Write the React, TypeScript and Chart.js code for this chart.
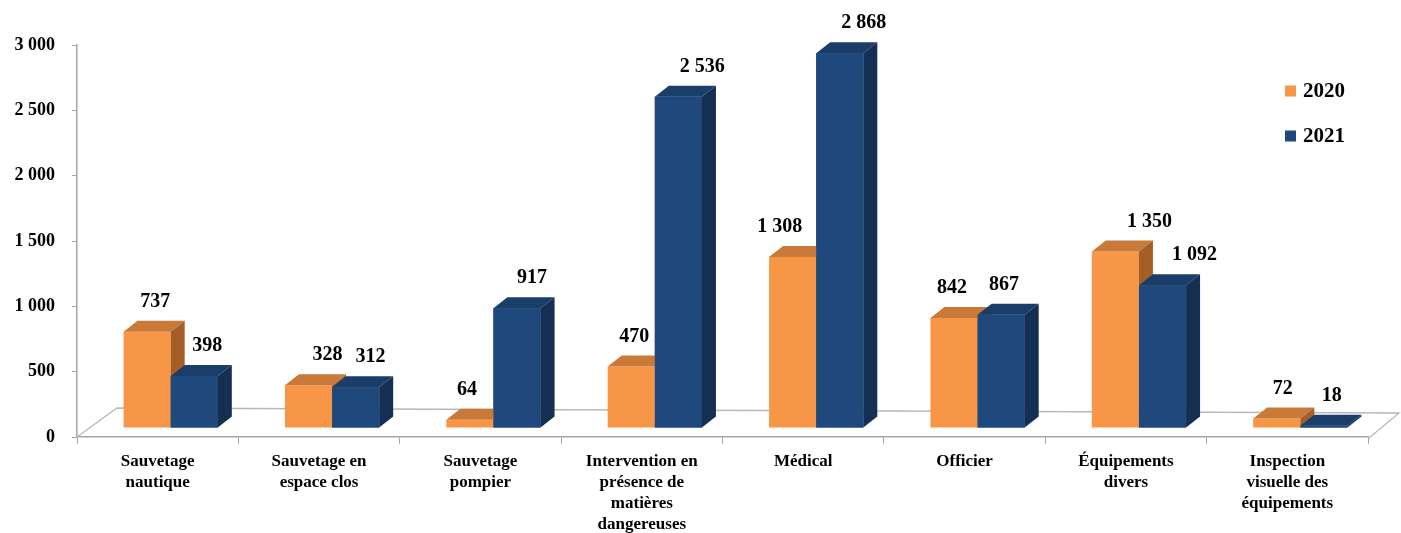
import React, { useEffect, useRef } from "react";
import { Chart, registerables } from "chart.js";

Chart.register(...registerables);

// ---- data ----
const categories: string[][] = [
  ["Sauvetage", "nautique"],
  ["Sauvetage en", "espace clos"],
  ["Sauvetage", "pompier"],
  ["Intervention en", "présence de", "matières", "dangereuses"],
  ["Médical"],
  ["Officier"],
  ["Équipements", "divers"],
  ["Inspection", "visuelle des", "équipements"],
];
const seriesNames = ["2020", "2021"];
const values2020 = [737, 328, 64, 470, 1308, 842, 1350, 72];
const values2021 = [398, 312, 917, 2536, 2868, 867, 1092, 18];
const yTicks = [0, 500, 1000, 1500, 2000, 2500, 3000];

// ---- styling ----
const FONT = "'Liberation Serif', 'Times New Roman', serif";
const COLORS = [
  { front: "#F79646", top: "#C97A38", side: "#A65E27" },
  { front: "#1F497D", top: "#1A3D69", side: "#142F52" },
];
const labelNudge = [
  [8, 19, -3, 3, -13, -2, 34, 6],
  [13, 15, 15, 24, 24, 3, 32, 8],
];
const SHIFT_X = 13;
const SHIFT_Y = -9;
const DEPTH_X = 14;
const DEPTH_Y = -11;
const AXIS_GRAY = "#A6A6A6";

const fmt = (n: number) => String(n).replace(/\B(?=(\d{3})+(?!\d))/g, " ");

const bars3d = {
  id: "bars3d",
  beforeDatasetsDraw(chart: any) {
    const { ctx, chartArea } = chart;
    const { left, right, bottom } = chartArea;
    // floor
    ctx.save();
    ctx.strokeStyle = "#B8B8B8";
    ctx.lineWidth = 1.3;
    ctx.beginPath();
    ctx.moveTo(left, bottom);
    ctx.lineTo(left + 40, bottom - 29);
    ctx.lineTo(right + 31, bottom - 24);
    ctx.lineTo(right + 1, bottom + 1);
    ctx.stroke();
    ctx.restore();
    ctx.save();
    ctx.translate(SHIFT_X, SHIFT_Y);
  },
  afterDatasetsDraw(chart: any) {
    const { ctx } = chart;
    const metas = [chart.getDatasetMeta(0), chart.getDatasetMeta(1)];
    const n = metas[0].data.length;
    const faces = (el: any, c: any) => {
      const { x, y, base, width } = el.getProps(["x", "y", "base", "width"], true);
      const l = x - width / 2;
      const r = x + width / 2;
      ctx.fillStyle = c.top;
      ctx.beginPath();
      ctx.moveTo(l, y);
      ctx.lineTo(l + DEPTH_X, y + DEPTH_Y);
      ctx.lineTo(r + DEPTH_X, y + DEPTH_Y);
      ctx.lineTo(r, y);
      ctx.closePath();
      ctx.fill();
      ctx.fillStyle = c.side;
      ctx.beginPath();
      ctx.moveTo(r, y);
      ctx.lineTo(r + DEPTH_X, y + DEPTH_Y);
      ctx.lineTo(r + DEPTH_X, base + DEPTH_Y);
      ctx.lineTo(r, base);
      ctx.closePath();
      ctx.fill();
    };
    for (let i = 0; i < n; i++) {
      faces(metas[0].data[i], COLORS[0]);
      metas[1].data[i].draw(ctx, chart.chartArea);
      faces(metas[1].data[i], COLORS[1]);
    }
    ctx.restore();
    // data labels
    ctx.save();
    ctx.font = `bold 20px ${FONT}`;
    ctx.fillStyle = "#000";
    ctx.textAlign = "center";
    ctx.textBaseline = "middle";
    metas.forEach((m, d) => {
      const vals = chart.data.datasets[d].data;
      m.data.forEach((el: any, i: number) => {
        const { x, y } = el.getProps(["x", "y"], true);
        ctx.fillText(fmt(vals[i]), x + SHIFT_X + labelNudge[d][i], y + SHIFT_Y - 30);
      });
    });
    ctx.restore();
  },
  afterDraw(chart: any) {
    const { ctx, chartArea } = chart;
    ctx.save();
    ctx.font = `bold 21px ${FONT}`;
    ctx.textBaseline = "middle";
    ctx.textAlign = "left";
    seriesNames.forEach((name, i) => {
      const cy = chartArea.top + 46 + i * 45;
      const sx = chartArea.right - 83;
      ctx.fillStyle = COLORS[i].front;
      ctx.fillRect(sx, cy - 5.5, 11, 11);
      ctx.fillStyle = "#000";
      ctx.fillText(name, sx + 18, cy + 1);
    });
    ctx.restore();
  },
};

export default function App() {
  const ref = useRef<HTMLCanvasElement | null>(null);
  useEffect(() => {
    if (!ref.current) return;
    const chart = new Chart(ref.current, {
      type: "bar",
      data: {
        labels: categories,
        datasets: [
          {
            label: seriesNames[0],
            data: values2020,
            backgroundColor: COLORS[0].front,
            borderWidth: 0,
            clip: false as any,
          },
          {
            label: seriesNames[1],
            data: values2021,
            backgroundColor: COLORS[1].front,
            borderWidth: 0,
            clip: false as any,
          },
        ],
      },
      options: {
        responsive: false,
        animation: false,
        devicePixelRatio: 1,
        layout: { padding: { top: 45, right: 33, bottom: 0, left: 0 } },
        datasets: { bar: { categoryPercentage: 0.584, barPercentage: 1 } },
        plugins: { legend: { display: false }, tooltip: { enabled: false } },
        scales: {
          x: {
            grid: {
              display: true,
              offset: true,
              drawOnChartArea: false,
              drawTicks: true,
              tickLength: 7,
              color: AXIS_GRAY,
            },
            border: { display: true, color: AXIS_GRAY, width: 1.5 },
            ticks: {
              color: "#000",
              font: { family: FONT, size: 17, weight: "bold", lineHeight: "21px" } as any,
              padding: 7,
              maxRotation: 0,
              autoSkip: false,
            },
            afterFit: (s: any) => {
              s.height = 96;
            },
          },
          y: {
            min: 0,
            max: 3000,
            afterBuildTicks: (s: any) => {
              s.ticks = yTicks.map((v) => ({ value: v }));
            },
            grid: {
              display: true,
              drawOnChartArea: false,
              drawTicks: true,
              tickLength: 5,
              color: AXIS_GRAY,
            },
            border: { display: true, color: AXIS_GRAY, width: 1.5 },
            ticks: {
              color: "#000",
              font: { family: FONT, size: 18, weight: "bold" },
              padding: 17,
              callback: (v: any) => fmt(Number(v)),
            },
            afterFit: (s: any) => {
              s.width = 77;
            },
          },
        },
      },
      plugins: [bars3d],
    });
    return () => chart.destroy();
  }, []);
  return (
    <div style={{ position: "fixed", left: 0, top: 0, width: 1401, height: 533, background: "#fff" }}>
      <canvas ref={ref} width={1401} height={533} />
    </div>
  );
}
